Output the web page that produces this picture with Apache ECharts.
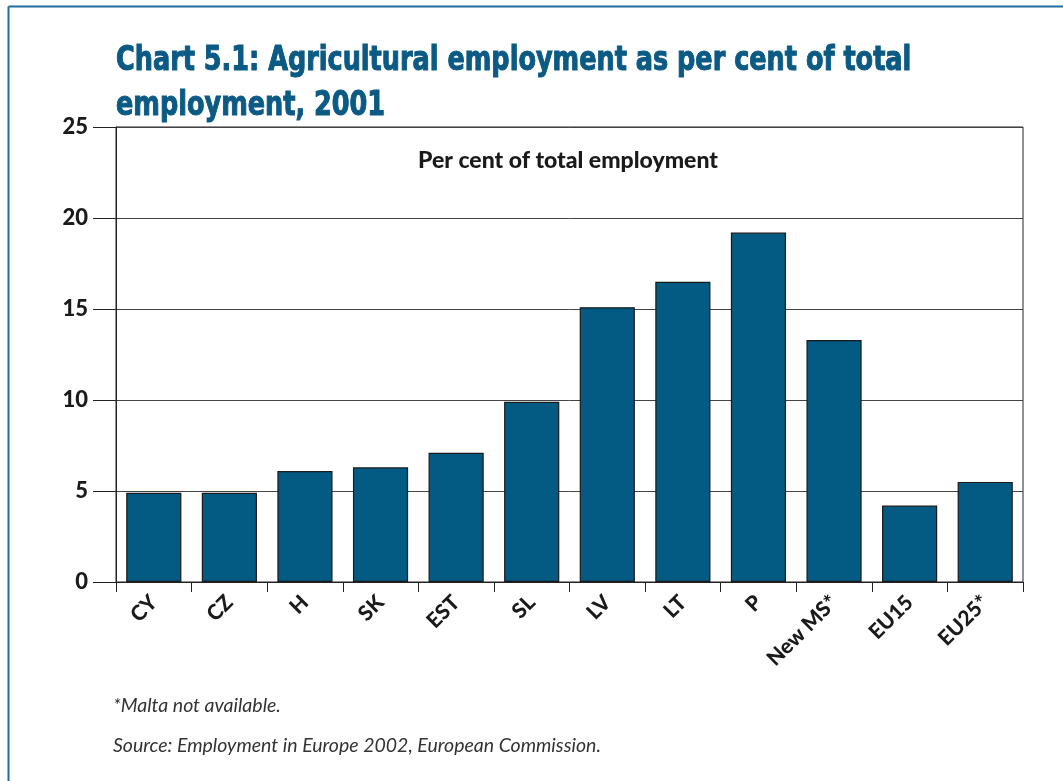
<!DOCTYPE html>
<html>
<head>
<meta charset="utf-8">
<script src="https://cdn.jsdelivr.net/npm/echarts@6/dist/echarts.min.js"></script>
<style>
html,body{margin:0;padding:0;background:#fff;}
#chart{width:1063px;height:781px;}
</style>
</head>
<body>
<div id="chart"></div>
<script>
const categories = ['CY','CZ','H','SK','EST','SL','LV','LT','P','New MS*','EU15','EU25*'];
const values = [4.9, 4.9, 6.1, 6.3, 7.1, 9.9, 15.1, 16.5, 19.2, 13.3, 4.2, 5.5];
const yTicks = [0, 5, 10, 15, 20, 25];
const titleText = 'Chart 5.1: Agricultural employment as per cent of total\nemployment, 2001';
const subtitleText = 'Per cent of total employment';
const note1 = '*Malta not available.';
const note2 = 'Source: Employment in Europe 2002, European Commission.';

const chart = echarts.init(document.getElementById('chart'), null, {renderer:'canvas'});
const titleFont = '"DejaVu Sans Condensed", "Lato", sans-serif';
const bodyFont = 'Lato, "Open Sans", sans-serif';
chart.setOption({
  backgroundColor: '#ffffff',
  animation: false,
  grid: {left: 116, right: 40, top: 127, bottom: 199, show: true, borderColor: '#222', borderWidth: 1},
  xAxis: {
    type: 'category', data: categories,
    boundaryGap: true,
    axisLine: {lineStyle: {color: '#222', width: 1}},
    axisTick: {show: true, length: 10, inside: false, alignWithLabel: false, lineStyle: {color: '#222'}},
    axisLabel: {rotate: 45, margin: 17, fontFamily: bodyFont, fontSize: 21, fontWeight: 900, color: '#1a1a1a', interval: 0}
  },
  yAxis: {
    type: 'value', min: yTicks[0], max: yTicks[yTicks.length-1], interval: 5,
    axisLine: {show: true, lineStyle: {color: '#222', width: 1}},
    axisTick: {show: true, length: 23, lineStyle: {color: '#222'}},
    axisLabel: {margin: 28, fontFamily: bodyFont, fontSize: 22, fontWeight: 900, color: '#1a1a1a'},
    splitLine: {show: true, lineStyle: {color: '#444', width: 1}}
  },
  series: [{
    type: 'bar', data: values,
    barCategoryGap: '27%',
    itemStyle: {color: '#035a82', borderColor: '#1a1a1a', borderWidth: 1.2}
  }],
  graphic: [
    {type: 'line', shape: {x1: 8.5, y1: 6.5, x2: 1063, y2: 6.5}, style: {stroke: '#1f6e9c', lineWidth: 2}},
    {type: 'line', shape: {x1: 8.5, y1: 6.5, x2: 8.5, y2: 781}, style: {stroke: '#1f6e9c', lineWidth: 2}},
    {type: 'text', x: 116, y: 39, scaleX: 0.86, originX: 0, originY: 0,
     style: {text: titleText, font: 'bold 33px ' + titleFont, fill: '#0b5a84', stroke: '#0b5a84', lineWidth: 1, lineHeight: 45}},
    {type: 'text', x: 568, y: 161, style: {text: subtitleText, font: '900 23px ' + bodyFont, fill: '#1a1a1a', textAlign: 'center', textVerticalAlign: 'middle'}},
    {type: 'text', x: 113, y: 706, style: {text: note1, font: 'italic 19.5px ' + bodyFont, fill: '#333', textVerticalAlign: 'middle'}},
    {type: 'text', x: 113, y: 746, style: {text: note2, font: 'italic 19.5px ' + bodyFont, fill: '#333', textVerticalAlign: 'middle'}}
  ]
});
</script>
</body>
</html>
